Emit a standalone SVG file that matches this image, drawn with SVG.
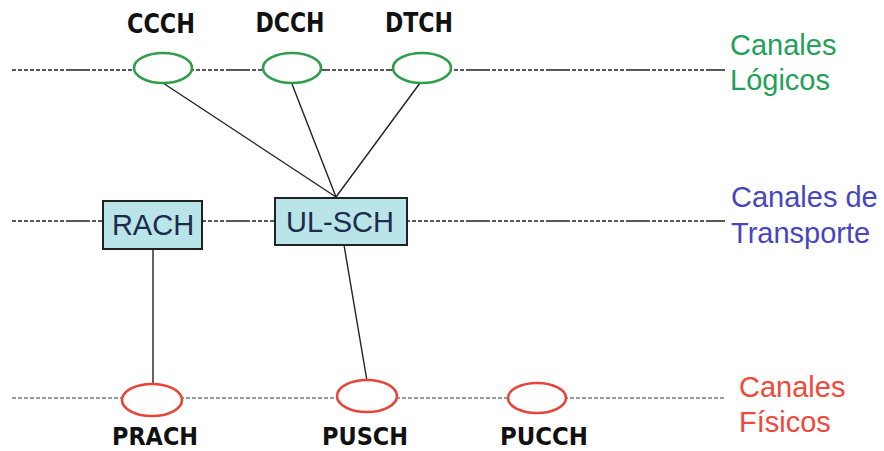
<svg xmlns="http://www.w3.org/2000/svg" width="884" height="451" viewBox="0 0 884 451">
  <style>
    .lane { fill: none; stroke: #222; stroke-width: 1.6; stroke-dasharray: 4 2 4 2 4 2 4 2 4 2 4 2 4 2 4 2 4 2 24 2; }
    .lane-phy { fill: none; stroke: #999; stroke-width: 2; stroke-dasharray: 4 2; }
    .log { fill: #fff; stroke: #2e9e4a; stroke-width: 2.6; }
    .phy { fill: #fff; stroke: #e8443a; stroke-width: 2.6; }
    .box { fill: #b9e4e8; stroke: #222; stroke-width: 2; }
    .link { fill: none; stroke: #222; stroke-width: 1.4; }
    .name { font-family: "DejaVu Sans", "Liberation Sans", sans-serif; font-weight: bold; font-size: 26px; fill: #111; text-anchor: middle; }
    .name-low { font-size: 24px; }
    .boxlabel { font-family: "Liberation Sans", Arial, sans-serif; font-size: 29px; fill: #1e2a4e; text-anchor: middle; }
    .side { font-family: "Liberation Sans", Arial, sans-serif; font-size: 29px; }
  </style>

  <!-- layer lines -->
  <g id="lanes">
    <line class="lane" x1="12" y1="70" x2="725" y2="70"/>
    <line class="lane" x1="12" y1="221" x2="725" y2="221"/>
    <line class="lane-phy" x1="12" y1="398" x2="725" y2="398"/>
  </g>

  <!-- connectors -->
  <g id="connectors">
    <line class="link" x1="163" y1="83" x2="336" y2="197"/>
    <line class="link" x1="292" y1="84" x2="336" y2="197"/>
    <line class="link" x1="420" y1="83" x2="336" y2="197"/>
    <line class="link" x1="344" y1="245" x2="367" y2="381"/>
    <line class="link" x1="153" y1="249" x2="153" y2="384"/>
  </g>

  <!-- logical channels -->
  <g id="ccch">
    <ellipse class="log" cx="163" cy="68" rx="29" ry="15"/>
    <text class="name" x="161" y="33" textLength="68" lengthAdjust="spacingAndGlyphs">CCCH</text>
  </g>
  <g id="dcch">
    <ellipse class="log" cx="292" cy="68" rx="29" ry="15"/>
    <text class="name" x="290" y="32" textLength="69" lengthAdjust="spacingAndGlyphs">DCCH</text>
  </g>
  <g id="dtch">
    <ellipse class="log" cx="422" cy="68" rx="29" ry="15"/>
    <text class="name" x="419" y="32" textLength="68" lengthAdjust="spacingAndGlyphs">DTCH</text>
  </g>

  <!-- transport channels -->
  <g id="rach">
    <rect class="box" x="103" y="201" width="99" height="48"/>
    <text class="boxlabel" x="153" y="235">RACH</text>
  </g>
  <g id="ul-sch">
    <rect class="box" x="275" y="198" width="132" height="47"/>
    <text class="boxlabel" x="340" y="232">UL-SCH</text>
  </g>

  <!-- physical channels -->
  <g id="prach">
    <ellipse class="phy" cx="152" cy="400" rx="30" ry="16"/>
    <text class="name name-low" x="155" y="445" textLength="86" lengthAdjust="spacingAndGlyphs">PRACH</text>
  </g>
  <g id="pusch">
    <ellipse class="phy" cx="367" cy="396" rx="30" ry="16"/>
    <text class="name name-low" x="365" y="445" textLength="86" lengthAdjust="spacingAndGlyphs">PUSCH</text>
  </g>
  <g id="pucch">
    <ellipse class="phy" cx="537" cy="398" rx="29" ry="15"/>
    <text class="name name-low" x="544" y="445" textLength="88" lengthAdjust="spacingAndGlyphs">PUCCH</text>
  </g>

  <!-- layer names -->
  <g id="legend">
    <text class="side" fill="#22a05a" x="730" y="55">Canales</text>
    <text class="side" fill="#22a05a" x="730" y="90">Lógicos</text>
    <text class="side" fill="#4646c0" x="731" y="207">Canales de</text>
    <text class="side" fill="#4646c0" x="731" y="243">Transporte</text>
    <text class="side" fill="#f0483a" x="739" y="397">Canales</text>
    <text class="side" fill="#f0483a" x="739" y="432">Físicos</text>
  </g>
</svg>
